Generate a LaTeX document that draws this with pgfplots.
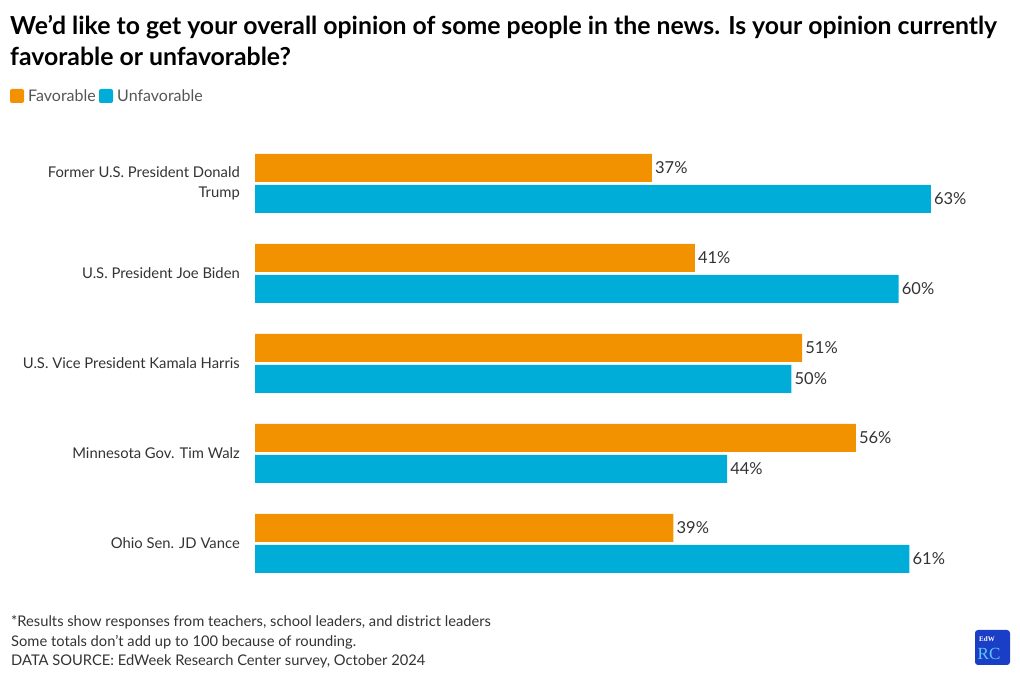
\documentclass[border=0pt]{standalone}
\usepackage{pgfplots}
\pgfplotsset{compat=1.18}
\usepackage{fontspec}
\setmainfont{Lato}
\newfontfamily\logofont{Liberation Serif}
\definecolor{fav}{HTML}{F39200}
\definecolor{unfav}{HTML}{00ADD8}
\definecolor{logoblue}{HTML}{1B3EC6}
\definecolor{logolight}{HTML}{5CC8F5}
\definecolor{txt}{HTML}{333333}
\definecolor{legtxt}{HTML}{555555}
\begin{document}
\begin{tikzpicture}
\useasboundingbox (0,0) rectangle (1020bp,679bp);
% title
\node[anchor=base west, inner sep=0pt, font=\fontsize{24.8bp}{28bp}\selectfont\bfseries, text=black] at (10bp,644bp) {We’d like to get your overall opinion of some people in the news. Is your opinion currently};
\node[anchor=base west, inner sep=0pt, font=\fontsize{24.8bp}{28bp}\selectfont\bfseries, text=black] at (10bp,613bp) {favorable or unfavorable?};
% legend
\fill[fav, rounded corners=2bp] (10bp,576bp) rectangle (24bp,590bp);
\node[anchor=base west, inner sep=0pt, font=\fontsize{16bp}{18bp}\selectfont, text=legtxt] at (28bp,577bp) {Favorable};
\fill[unfav, rounded corners=2bp] (99bp,576bp) rectangle (113bp,590bp);
\node[anchor=base west, inner sep=0pt, font=\fontsize{16bp}{18bp}\selectfont, text=legtxt] at (117bp,577bp) {Unfavorable};
\begin{axis}[
  at={(255bp,90.5bp)}, anchor=south west,
  scale only axis, width=751bp, height=450bp,
  xmin=0, xmax=70, ymin=-0.5, ymax=4.5,
  hide x axis,
  axis y line*=left,
  y axis line style={draw=none},
  major tick length=0pt,
  ytick={0,1,2,3,4},
  yticklabels={Ohio Sen. JD Vance, Minnesota Gov. Tim Walz, U.S. Vice President Kamala Harris, U.S. President Joe Biden, {Former U.S. President Donald\\Trump}},
  yticklabel style={align=right, anchor=east, inner xsep=0pt, xshift=-15bp, font=\fontsize{14.8bp}{20bp}\selectfont, text=txt},
  xbar, bar width=28bp,
  nodes near coords={\pgfplotspointmeta\%},
  nodes near coords style={anchor=west, inner xsep=3bp, font=\fontsize{16.5bp}{18bp}\selectfont, text=txt},
  point meta=explicit symbolic,
  clip=false,
]
\addplot[fill=fav, draw=none, bar shift=15.5bp] coordinates {(37,4) [37] (41,3) [41] (51,2) [51] (56,1) [56] (39,0) [39]};
\addplot[fill=unfav, draw=none, bar shift=-15.5bp] coordinates {(63,4) [63] (60,3) [60] (50,2) [50] (44,1) [44] (61,0) [61]};
\end{axis}
% footer
\node[anchor=base west, inner sep=0pt, font=\fontsize{14.7bp}{18bp}\selectfont, text=txt] at (11bp,52bp) {*Results show responses from teachers, school leaders, and district leaders};
\node[anchor=base west, inner sep=0pt, font=\fontsize{14.7bp}{18bp}\selectfont, text=txt] at (11bp,33bp) {Some totals don't add up to 100 because of rounding.};
\node[anchor=base west, inner sep=0pt, font=\fontsize{14.7bp}{18bp}\selectfont, text=txt] at (11bp,14bp) {DATA SOURCE: EdWeek Research Center survey, October 2024};
% logo
\fill[logoblue, rounded corners=3bp] (975bp,14bp) rectangle (1010bp,49bp);
\node[anchor=base west, inner sep=0pt, font=\logofont\fontsize{7bp}{8bp}\selectfont\bfseries, text=white] at (979bp,38bp) {EdW};
\node[anchor=base west, inner sep=0pt, font=\logofont\fontsize{17bp}{18bp}\selectfont, text=logolight] at (977.5bp,20bp) {RC};
\end{tikzpicture}
\end{document}
